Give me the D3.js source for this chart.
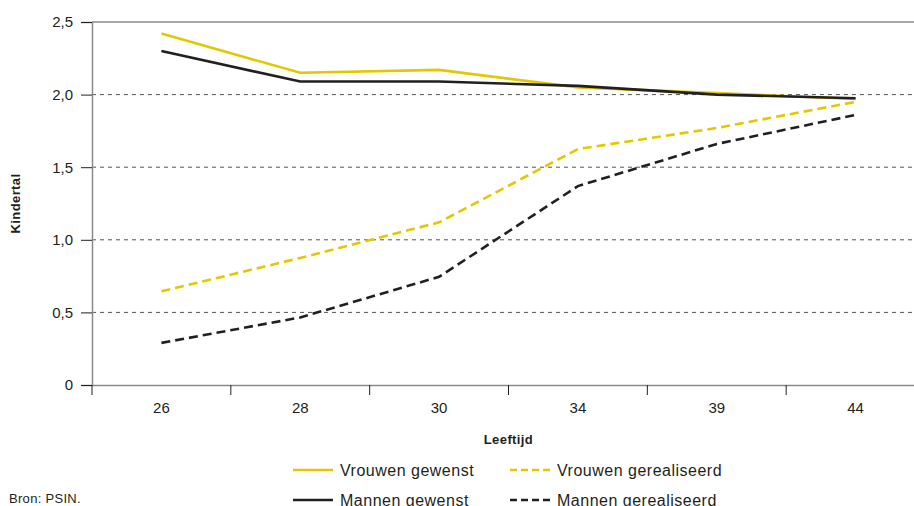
<!DOCTYPE html>
<html>
<head>
<meta charset="utf-8">
<script src="https://cdn.jsdelivr.net/npm/d3@7"></script>
<style>
  body { margin: 0; background: #fff; }
  text { font-family: "Liberation Sans", Arial, sans-serif; fill: #231f20; }
</style>
</head>
<body>
<div id="chart"></div>
<script>
// data
var leeftijden = ["26", "28", "30", "34", "39", "44"];
var vrouwenGewenst = [2.42, 2.15, 2.17, 2.05, 2.01, 1.97];
var mannenGewenst = [2.30, 2.09, 2.09, 2.06, 2.00, 1.975];
var vrouwenGerealiseerd = [0.645, 0.875, 1.12, 1.625, 1.77, 1.95];
var mannenGerealiseerd = [0.29, 0.465, 0.745, 1.37, 1.66, 1.86];
var yTicks = [0, 0.5, 1.0, 1.5, 2.0, 2.5];

var geel = "#e0c900", zwart = "#231f20";

var series = [
  {name: "Vrouwen gewenst", values: vrouwenGewenst, color: geel, dash: null},
  {name: "Mannen gewenst", values: mannenGewenst, color: zwart, dash: null},
  {name: "Vrouwen gerealiseerd", values: vrouwenGerealiseerd, color: geel, dash: "9,5"},
  {name: "Mannen gerealiseerd", values: mannenGerealiseerd, color: zwart, dash: "9,5"}
];

// set the dimensions and margins of the graph
var margin = {top: 22, right: -11, bottom: 121, left: 92},
    width = 914 - margin.left - margin.right,
    height = 506 - margin.top - margin.bottom;

var svg = d3.select("#chart")
  .append("svg")
    .attr("width", 914)
    .attr("height", 506)
    .style("overflow", "hidden")
  .append("g")
    .attr("transform", "translate(" + margin.left + "," + margin.top + ")");

// X axis
var x = d3.scaleBand()
  .domain(leeftijden)
  .range([0, width]);

// Y axis
var y = d3.scaleLinear()
  .domain([0, 2.5])
  .range([height, 0]);

// grid lines
svg.selectAll("gridline")
  .data(yTicks.filter(function(d) { return d > 0 && d < 2.5; }))
  .enter()
  .append("line")
    .attr("x1", 0)
    .attr("x2", width)
    .attr("y1", function(d) { return y(d); })
    .attr("y2", function(d) { return y(d); })
    .attr("stroke", "#555")
    .attr("stroke-width", 1)
    .attr("stroke-dasharray", "4,4");

// top border
svg.append("line")
  .attr("x1", 0).attr("x2", width)
  .attr("y1", y(2.5)).attr("y2", y(2.5))
  .attr("stroke", "#8a8a8a")
  .attr("stroke-width", 1.5);

var yAxis = svg.append("g")
  .call(d3.axisLeft(y).tickValues(yTicks).tickSize(11).tickPadding(8)
    .tickFormat(function(d) { return d === 0 ? "0" : d3.format(".1f")(d).replace(".", ","); }));

var xAxis = svg.append("g")
  .attr("transform", "translate(0," + height + ")")
  .call(d3.axisBottom(x).tickSize(0).tickPadding(17));

// tick marks between the categories
xAxis.selectAll("sep")
  .data(leeftijden)
  .enter()
  .append("line")
    .attr("x1", function(d) { return x(d); })
    .attr("x2", function(d) { return x(d); })
    .attr("y1", 0)
    .attr("y2", 10)
    .attr("stroke", "#231f20")
    .attr("stroke-width", 1);

svg.selectAll(".domain")
  .attr("stroke", "#8a8a8a")
  .attr("stroke-width", 1.5);
yAxis.selectAll(".tick line").attr("stroke", "#231f20");
svg.selectAll(".tick text")
  .style("font-size", "15px")
  .style("font-family", "Liberation Sans, Arial, sans-serif")
  .attr("fill", "#231f20");

// lines
var line = d3.line()
  .x(function(d, i) { return x(leeftijden[i]) + x.bandwidth() / 2; })
  .y(function(d) { return y(d); });

svg.selectAll("serie")
  .data(series)
  .enter()
  .append("path")
    .attr("d", function(d) { return line(d.values); })
    .attr("fill", "none")
    .attr("stroke", function(d) { return d.color; })
    .attr("stroke-width", 2.6)
    .attr("stroke-dasharray", function(d) { return d.dash; });

// axis titles
svg.append("text")
  .attr("x", x.range()[0] + (x.range()[1] - x.range()[0]) / 2)
  .attr("y", height + 59)
  .attr("text-anchor", "middle")
  .style("font-size", "13px")
  .style("font-weight", "bold")
  .style("letter-spacing", "0.4px")
  .text("Leeftijd");

svg.append("text")
  .attr("transform", "translate(" + (20 - margin.left) + "," + (height / 2) + ") rotate(-90)")
  .attr("text-anchor", "middle")
  .style("font-size", "13px")
  .style("font-weight", "bold")
  .style("letter-spacing", "0.4px")
  .text("Kindertal");

// legend
var root = d3.select("#chart svg");
var legendPos = [[293, 470], [510, 470], [293, 500], [510, 500]];
var legendOrder = [series[0], series[2], series[1], series[3]];
var legend = root.selectAll("legenditem")
  .data(legendOrder)
  .enter()
  .append("g")
    .attr("transform", function(d, i) { return "translate(" + legendPos[i][0] + "," + legendPos[i][1] + ")"; });

legend.append("line")
  .attr("x1", 0).attr("x2", 40)
  .attr("y1", 0).attr("y2", 0)
  .attr("stroke", function(d) { return d.color; })
  .attr("stroke-width", 2.6)
  .attr("stroke-dasharray", function(d) { return d.dash ? "7,4" : null; });

legend.append("text")
  .attr("x", 47)
  .attr("y", 6)
  .style("font-size", "16px")
  .style("letter-spacing", "0.5px")
  .text(function(d) { return d.name; });

root.append("text")
  .attr("x", 9)
  .attr("y", 503)
  .style("font-size", "13px")
  .style("letter-spacing", "0.3px")
  .text("Bron: PSIN.");
</script>
</body>
</html>
